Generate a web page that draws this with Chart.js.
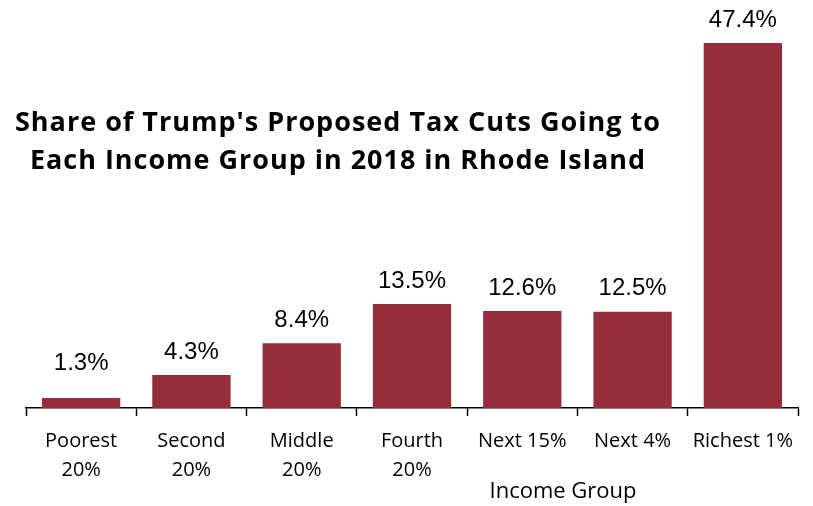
<!DOCTYPE html>
<html>
<head>
<meta charset="utf-8">
<script src="https://cdn.jsdelivr.net/npm/chart.js@4.4.1/dist/chart.umd.min.js"></script>
<style>
  html, body { margin: 0; padding: 0; background: #fff; }
  #wrap { width: 813px; height: 506px; }
</style>
</head>
<body>
<div id="wrap"><canvas id="taxChart" width="813" height="506"></canvas></div>
<script>
    var categories = [['Poorest', '20%'], ['Second', '20%'], ['Middle', '20%'], ['Fourth', '20%'], ['Next 15%'], ['Next 4%'], ['Richest 1%']];
    var shares = [1.3, 4.3, 8.4, 13.5, 12.6, 12.5, 47.4];
    var titleLines = ["Share of Trump's Proposed Tax Cuts Going to", "Each Income Group in 2018 in Rhode Island"];
    var axisTitle = 'Income Group';

    var barColor = '#952d3c';

    // value labels above bars, plus the title and axis title drawn on canvas
    var annotations = {
        id: 'annotations',
        afterDatasetsDraw: function (chart) {
            var ctx = chart.ctx;
            var meta = chart.getDatasetMeta(0);
            var base = chart.chartArea.bottom;
            ctx.save();
            ctx.fillStyle = '#000';
            ctx.textAlign = 'center';
            ctx.textBaseline = 'middle';
            ctx.font = '24px "Liberation Sans", Arial, sans-serif';
            meta.data.forEach(function (bar, i) {
                var y = Math.min(bar.y - 23, base - 45);
                ctx.fillText(shares[i].toFixed(1) + '%', bar.x, y);
            });

            ctx.font = 'bold 27px "Open Sans", sans-serif';
            ctx.letterSpacing = '1px';
            ctx.textBaseline = 'alphabetic';
            ctx.fillText(titleLines[0], 338, 131, 650);
            ctx.fillText(titleLines[1], 338, 169, 616);
            ctx.letterSpacing = '0px';

            ctx.font = '22px "Open Sans", sans-serif';
            ctx.textBaseline = 'middle';
            ctx.fillText(axisTitle, 563, 492);
            ctx.restore();
        }
    };

    new Chart(document.getElementById('taxChart'), {
        type: 'bar',
        data: {
            labels: categories,
            datasets: [{
                data: shares,
                backgroundColor: barColor,
                borderWidth: 0,
                barPercentage: 0.71,
                categoryPercentage: 1
            }]
        },
        options: {
            responsive: false,
            animation: false,
            devicePixelRatio: 1,
            layout: {
                padding: { top: 23, left: 26, right: 15, bottom: 10 }
            },
            scales: {
                x: {
                    grid: {
                        display: true,
                        offset: true,
                        drawOnChartArea: false,
                        drawTicks: true,
                        tickLength: 8,
                        tickWidth: 1.5,
                        tickColor: '#000'
                    },
                    border: { display: true, color: '#000', width: 1.5 },
                    ticks: {
                        color: '#000',
                        padding: 11,
                        maxRotation: 0,
                        autoSkip: false,
                        font: { family: '"Open Sans", sans-serif', size: 20, lineHeight: 1.45 }
                    }
                },
                y: {
                    display: false,
                    min: 0,
                    max: 50
                }
            },
            plugins: {
                legend: { display: false },
                tooltip: { enabled: false }
            }
        },
        plugins: [annotations]
    });
</script>
</body>
</html>
